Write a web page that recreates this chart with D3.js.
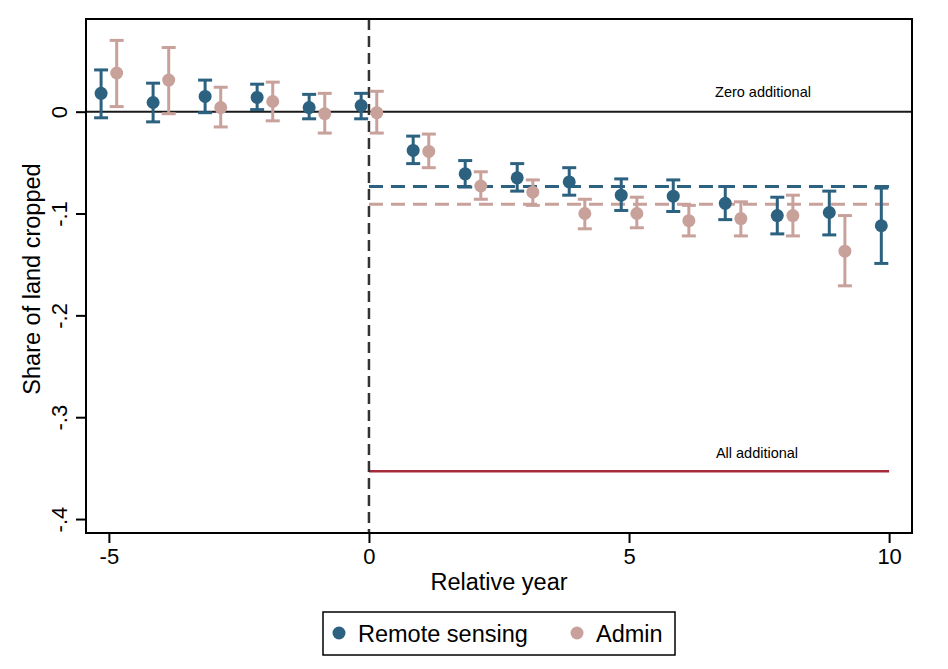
<!DOCTYPE html>
<html>
<head>
<meta charset="utf-8">
<script src="https://cdn.jsdelivr.net/npm/d3@7"></script>
<style>
  html, body { margin: 0; padding: 0; background: #fff; }
  svg { display: block; font-family: "Liberation Sans", Arial, sans-serif; }
</style>
</head>
<body>
<svg id="chart" width="948" height="669"></svg>
<script>
// ---- data ----
const years = [-5, -4, -3, -2, -1, 0, 1, 2, 3, 4, 5, 6, 7, 8, 9, 10];
const remoteEst = [0.018, 0.009, 0.015, 0.014, 0.004, 0.006, -0.038, -0.061, -0.065, -0.069, -0.082, -0.083, -0.090, -0.102, -0.099, -0.112];
const remoteLo  = [-0.006, -0.010, -0.001, 0.002, -0.007, -0.007, -0.051, -0.074, -0.078, -0.082, -0.097, -0.098, -0.106, -0.120, -0.121, -0.149];
const remoteHi  = [0.041, 0.028, 0.031, 0.027, 0.017, 0.018, -0.024, -0.048, -0.051, -0.055, -0.066, -0.067, -0.0735, -0.084, -0.078, -0.075];
const adminYears = [-5, -4, -3, -2, -1, 0, 1, 2, 3, 4, 5, 6, 7, 8, 9];
const adminEst = [0.038, 0.031, 0.004, 0.010, -0.002, -0.001, -0.039, -0.073, -0.079, -0.100, -0.100, -0.107, -0.105, -0.102, -0.137];
const adminLo  = [0.005, -0.002, -0.015, -0.009, -0.021, -0.021, -0.055, -0.086, -0.092, -0.115, -0.114, -0.122, -0.122, -0.122, -0.171];
const adminHi  = [0.070, 0.063, 0.024, 0.029, 0.018, 0.020, -0.022, -0.059, -0.067, -0.086, -0.084, -0.092, -0.0885, -0.082, -0.102];
const remoteAvg = -0.0735;
const adminAvg = -0.0908;
const zeroAdditional = 0;
const allAdditional = -0.353;
const xTicks = [-5, 0, 5, 10];
const xTickLabels = ["-5", "0", "5", "10"];
const yTicks = [0, -0.1, -0.2, -0.3, -0.4];
const yTickLabels = ["0", "-.1", "-.2", "-.3", "-.4"];
const seriesNames = ["Remote sensing", "Admin"];

// ---- layout ----
const svg = d3.select("#chart");
const L = 86, R = 912, T = 19, B = 533;
const x = d3.scaleLinear().domain([-5.44, 10.44]).range([L, R]);
const y = d3.scaleLinear().domain([0.091, -0.4137]).range([T, B]);
const blue = "#2c6180";
const pink = "#c8a19b";
const offset = 0.15;

// reference lines
svg.append("line").attr("x1", L).attr("x2", R)
  .attr("y1", y(zeroAdditional)).attr("y2", y(zeroAdditional))
  .attr("stroke", "#1a1a1a").attr("stroke-width", 2);
svg.append("text").attr("x", 763).attr("y", y(zeroAdditional) - 15)
  .attr("text-anchor", "middle").attr("font-size", 14.5).attr("fill", "#000")
  .text("Zero additional");

svg.append("line").attr("x1", x(0)).attr("x2", x(10))
  .attr("y1", y(allAdditional)).attr("y2", y(allAdditional))
  .attr("stroke", "#a52a3a").attr("stroke-width", 2.5);
svg.append("text").attr("x", 757).attr("y", y(allAdditional) - 13)
  .attr("text-anchor", "middle").attr("font-size", 14.5).attr("fill", "#000")
  .text("All additional");

// average dashed lines
svg.append("line").attr("x1", x(0)).attr("x2", x(10))
  .attr("y1", y(remoteAvg)).attr("y2", y(remoteAvg))
  .attr("stroke", blue).attr("stroke-width", 3).attr("stroke-dasharray", "14,8");
svg.append("line").attr("x1", x(0)).attr("x2", x(10))
  .attr("y1", y(adminAvg)).attr("y2", y(adminAvg))
  .attr("stroke", pink).attr("stroke-width", 3).attr("stroke-dasharray", "14,8");

// vertical dashed line at 0
svg.append("line").attr("x1", x(0)).attr("x2", x(0))
  .attr("y1", T).attr("y2", B)
  .attr("stroke", "#333").attr("stroke-width", 2.5).attr("stroke-dasharray", "11,6");

// error bars and points
function drawSeries(yrs, est, lo, hi, dx, color) {
  const g = svg.append("g");
  const data = yrs.map((t, i) => ({t: t + dx, e: est[i], lo: lo[i], hi: hi[i]}));
  const cap = 7;
  g.selectAll(".v").data(data).enter().append("line")
    .attr("x1", d => x(d.t)).attr("x2", d => x(d.t))
    .attr("y1", d => y(d.hi)).attr("y2", d => y(d.lo))
    .attr("stroke", color).attr("stroke-width", 3);
  g.selectAll(".ct").data(data).enter().append("line")
    .attr("x1", d => x(d.t) - cap).attr("x2", d => x(d.t) + cap)
    .attr("y1", d => y(d.hi)).attr("y2", d => y(d.hi))
    .attr("stroke", color).attr("stroke-width", 3);
  g.selectAll(".cb").data(data).enter().append("line")
    .attr("x1", d => x(d.t) - cap).attr("x2", d => x(d.t) + cap)
    .attr("y1", d => y(d.lo)).attr("y2", d => y(d.lo))
    .attr("stroke", color).attr("stroke-width", 3);
  g.selectAll("circle").data(data).enter().append("circle")
    .attr("cx", d => x(d.t)).attr("cy", d => y(d.e)).attr("r", 6.5)
    .attr("fill", color);
}
drawSeries(years, remoteEst, remoteLo, remoteHi, -offset, blue);
drawSeries(adminYears, adminEst, adminLo, adminHi, offset, pink);

// frame
svg.append("rect").attr("x", L).attr("y", T).attr("width", R - L).attr("height", B - T)
  .attr("fill", "none").attr("stroke", "#000").attr("stroke-width", 2);

// x axis
const xAxis = d3.axisBottom(x).tickValues(xTicks).tickSize(10).tickPadding(5)
  .tickFormat((d, i) => xTickLabels[i]);
const gx = svg.append("g").attr("transform", `translate(0,${B})`).call(xAxis);
gx.select(".domain").remove();
gx.selectAll(".tick line").attr("stroke", "#000").attr("stroke-width", 2);
gx.selectAll(".tick text").attr("font-size", 22).attr("fill", "#000")
  .attr("font-family", "Liberation Sans, Arial, sans-serif");

// y axis
const yAxis = d3.axisLeft(y).tickValues(yTicks).tickSize(10).tickFormat((d, i) => yTickLabels[i]);
const gy = svg.append("g").attr("transform", `translate(${L},0)`).call(yAxis);
gy.select(".domain").remove();
gy.selectAll(".tick line").attr("stroke", "#000").attr("stroke-width", 2);
gy.selectAll(".tick text")
  .attr("font-size", 22).attr("fill", "#000")
  .attr("font-family", "Liberation Sans, Arial, sans-serif")
  .attr("x", null).attr("dy", null)
  .attr("text-anchor", "middle")
  .attr("transform", "translate(-27,0) rotate(-90)")
  .attr("y", 0).attr("dy", "0.35em");

// axis titles
svg.append("text").attr("x", (L + R) / 2).attr("y", 590)
  .attr("text-anchor", "middle").attr("font-size", 23.5).attr("fill", "#000")
  .text("Relative year");
svg.append("text").attr("transform", `translate(40,${(T + B) / 2 + 3}) rotate(-90)`)
  .attr("text-anchor", "middle").attr("font-size", 23.5).attr("fill", "#000")
  .text("Share of land cropped");

// legend
const lg = svg.append("g");
lg.append("rect").attr("x", 323).attr("y", 612).attr("width", 352).attr("height", 43)
  .attr("fill", "#fff").attr("stroke", "#000").attr("stroke-width", 1.5);
const legendItems = [
  {name: seriesNames[0], color: blue, cx: 339, tx: 358},
  {name: seriesNames[1], color: pink, cx: 577, tx: 596}
];
legendItems.forEach(it => {
  lg.append("circle").attr("cx", it.cx).attr("cy", 633).attr("r", 6.5).attr("fill", it.color);
  lg.append("text").attr("x", it.tx).attr("y", 641.5).attr("font-size", 23.5).attr("fill", "#000").text(it.name);
});
</script>
</body>
</html>
